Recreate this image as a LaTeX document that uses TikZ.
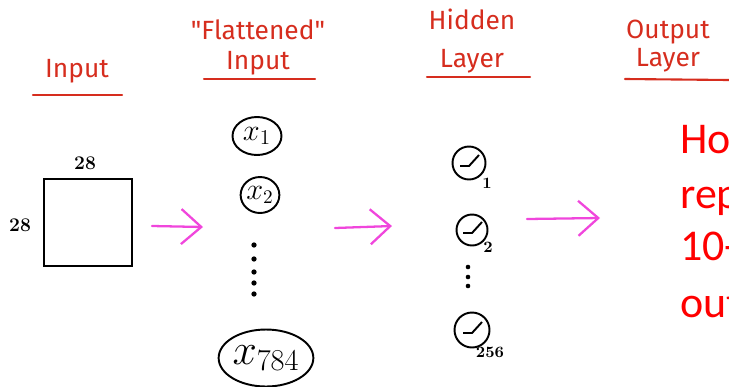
\documentclass[tikz,border=0pt]{standalone}
\usepackage{fontspec}
\usetikzlibrary{arrows.meta,shapes.geometric}
\newfontfamily\handfont{Fira Sans}
\newfontfamily\slidefont{Carlito}
\definecolor{hwred}{RGB}{214,45,30}
\definecolor{flowpink}{RGB}{240,70,220}
\definecolor{slidered}{RGB}{255,0,0}
\begin{document}
\begin{tikzpicture}[x=0.02cm, y=-0.02cm,
  mnisthead/.style = {text=hwred, font=\handfont\fontsize{15}{16}\selectfont, align=center},
  mnistrule/.style = {draw=hwred, line width=1.2pt, line cap=round},
  mnistflow/.style = {draw=flowpink, line width=1.3pt, line cap=round,
    -{Straight Barb[length=4mm, width=7mm, line width=1.3pt]}},
  mnistin/.style = {ellipse, draw, line width=1.1pt, inner sep=0pt},
  mnistunit/.style = {circle, draw, line width=1.1pt, inner sep=0pt, minimum size=0.66cm},
  mnistsub/.style = {font=\fontsize{9}{10}\selectfont\bfseries},
  mnistdot/.style = {circle, fill, inner sep=0pt, minimum size=3pt},
  mnistnote/.style = {text=slidered, font=\slidefont\fontsize{25}{30}\selectfont, anchor=base west, inner sep=0pt}
]
  \clip (0,0) rectangle (729,386);
  \useasboundingbox (0,0) rectangle (729,386);

  % column headings
  \node[mnisthead] (hin) at (77,71) {Input};
  \draw[mnistrule] (33,95) -- (122,95);
  \node[mnisthead] (hflat) at (258,47) {"Flattened"\\[1pt]Input};
  \draw[mnistrule] (204,79) -- (315,79);
  \node[mnisthead] (hhid) at (472,41) {Hidden\\[6pt]Layer};
  \draw[mnistrule] (427,77) -- (530,77);
  \node[mnisthead] (hout) at (668,46) {Output\\[0pt]Layer};
  \draw[mnistrule] (625,79) -- (729,80);

  % the image
  \draw[line width=1.2pt] (44,179) rectangle (132,266);
  \node[font=\fontsize{11}{12}\selectfont\bfseries] (wd) at (85,163) {28};
  \node[font=\fontsize{11}{12}\selectfont\bfseries] (ht) at (20,225) {28};

  % flattened pixels
  \node[mnistin, minimum width=0.98cm, minimum height=0.76cm] (x1) at (257,136)
    {\fontsize{17}{17}\selectfont$x_1$};
  \node[mnistin, minimum width=0.74cm, minimum height=0.72cm] (x2) at (260,195)
    {\fontsize{16}{16}\selectfont$x_2$};
  \foreach \y [count=\i] in {245,259,272,283,294}
    \node[mnistdot] (fd\i) at (254,\y) {};
  \node[mnistin, minimum width=1.44cm, minimum height=1.14cm] (x784) at (266,358)
    {\fontsize{24}{24}\selectfont$x_{784}$};

  % hidden units
  \node[mnistunit] (h1) at (469,163) {};
  \node[mnistunit, minimum size=0.62cm] (h2) at (472,230) {};
  \node[mnistunit, minimum size=0.7cm] (h3) at (472,330) {};
  \foreach \u in {h1,h2,h3}
    \draw[line width=1.1pt, line join=round]
      ([shift={(-9,3)}]\u.center) -- ([shift={(0,3)}]\u.center) -- ([shift={(10,-8)}]\u.center);
  \node[mnistsub] (s1) at (487,183) {1};
  \node[mnistsub] (s2) at (488,247) {2};
  \node[mnistsub] (s3) at (490,352) {256};
  \foreach \y [count=\i] in {267,277,286}
    \node[mnistdot, minimum size=2.6pt] (hd\i) at (468,\y) {};

  % flow arrows
  \coordinate (a1s) at (152,226);
  \coordinate (a1e) at (203,227);
  \coordinate (a2s) at (335,228);
  \coordinate (a2e) at (392,226);
  \coordinate (a3s) at (527,219);
  \coordinate (a3e) at (600,218);
  \draw[mnistflow] (a1s) -- (a1e);
  \draw[mnistflow] (a2s) -- (a2e);
  \draw[mnistflow] (a3s) -- (a3e);

  % slide text (cut at the right edge)
  \node[mnistnote] (n1) at (680,153) {Ho};
  \node[mnistnote] (n2) at (680,208) {rep};
  \node[mnistnote] (n3) at (680,260) {10-};
  \node[mnistnote] (n4) at (680,317) {out};
\end{tikzpicture}
\end{document}
